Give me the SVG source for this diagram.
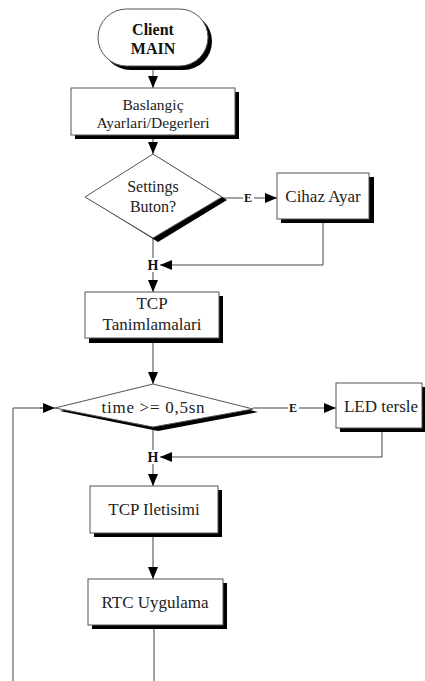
<svg xmlns="http://www.w3.org/2000/svg" width="425" height="681" viewBox="0 0 425 681">
  <defs>
    <marker id="arrow" viewBox="0 0 12 10" refX="12" refY="5" markerWidth="12" markerHeight="10" markerUnits="userSpaceOnUse" orient="auto">
      <path d="M0,0 L12,5 L0,10 Z" fill="#000"/>
    </marker>
  </defs>
  <style>
    .shape { fill: #fff; stroke: #555; stroke-width: 1; }
    .shadow { fill: #000; }
    text { font-family: 'Liberation Serif', 'DejaVu Serif', 'Noto Serif', 'Times New Roman', serif; }
    .txt { fill: #222; text-anchor: middle; }
    .title { font-weight: bold; fill: #111; text-anchor: middle; font-size: 16px; }
    .lbl { font-weight: bold; fill: #111; text-anchor: middle; }
    .line { fill: none; stroke: #444; stroke-width: 1; }
    .arr { fill: none; stroke: #444; stroke-width: 1; marker-end: url(#arrow); }
  </style>
  <rect width="425" height="681" fill="#fff"/>

  <!-- connectors -->
  <g id="connectors">
    <line class="arr" x1="153" y1="69" x2="153" y2="88"/>
    <line class="arr" x1="153" y1="139" x2="153" y2="154"/>
    <!-- decision 1: E branch -->
    <line class="line" x1="222" y1="198" x2="243" y2="198"/>
    <line class="arr" x1="254" y1="198" x2="277" y2="198"/>
    <polyline class="line" points="323,223 323,265 170,265"/>
    <line class="arr" x1="172" y1="265" x2="160" y2="265"/>
    <line class="line" x1="153" y1="238" x2="153" y2="258"/>
    <line class="arr" x1="153" y1="272" x2="153" y2="292"/>
    <line class="arr" x1="153" y1="343" x2="153" y2="384"/>
    <!-- decision 2: E branch -->
    <line class="line" x1="253" y1="408" x2="288" y2="408"/>
    <line class="arr" x1="299" y1="408" x2="336" y2="408"/>
    <polyline class="line" points="382,432 382,457 170,457"/>
    <line class="arr" x1="172" y1="457" x2="160" y2="457"/>
    <line class="line" x1="153" y1="427" x2="153" y2="450"/>
    <line class="arr" x1="153" y1="464" x2="153" y2="486"/>
    <line class="arr" x1="153" y1="537" x2="153" y2="579"/>
    <!-- loop back -->
    <line class="line" x1="154" y1="629" x2="154" y2="681"/>
    <polyline class="line" points="13,681 13,408 45,408"/>
    <line class="arr" x1="40" y1="408" x2="55" y2="408"/>
    <text class="lbl" x="248" y="202" font-size="12">E</text>
    <text class="lbl" x="293" y="412" font-size="12">E</text>
    <text class="lbl" x="153" y="270" font-size="14">H</text>
    <text class="lbl" x="153" y="462" font-size="14">H</text>
  </g>

  <g id="start">
    <rect class="shadow" x="102" y="13" width="110" height="57" rx="28.5"/>
    <rect class="shape" x="98" y="9" width="110" height="57" rx="28.5"/>
    <text class="title" x="153" y="35">Client</text>
    <text class="title" x="153" y="54">MAIN</text>
  </g>

  <g id="init">
    <rect class="shadow" x="75" y="92" width="164" height="47"/>
    <rect class="shape" x="71" y="88" width="164" height="47"/>
    <text class="txt" x="153" y="110" font-size="15.5">Baslangiç</text>
    <text class="txt" x="153" y="128" font-size="15.5">Ayarlari/Degerleri</text>
  </g>

  <g id="settings">
    <polygon class="shadow" points="158,157 227,200 158,242 90,200"/>
    <polygon class="shape" points="153,154 222,197 153,238 85,197"/>
    <text class="txt" x="153" y="192" font-size="16">Settings</text>
    <text class="txt" x="153" y="212" font-size="16">Buton?</text>
  </g>

  <g id="device">
    <rect class="shadow" x="281" y="177" width="93" height="46"/>
    <rect class="shape" x="277" y="173" width="92" height="46"/>
    <text class="txt" x="323" y="202" font-size="17">Cihaz Ayar</text>
  </g>

  <g id="tcpdef">
    <rect class="shadow" x="89" y="296" width="134" height="47"/>
    <rect class="shape" x="85" y="292" width="134" height="46"/>
    <text class="txt" x="152" y="309" font-size="17">TCP</text>
    <text class="txt" x="152" y="330" font-size="17">Tanimlamalari</text>
  </g>

  <g id="timer">
    <polygon class="shadow" points="158,387 258,412 158,431 60,411"/>
    <polygon class="shape" points="153,384 253,409 153,427 55,408"/>
    <text class="txt" x="153" y="413" font-size="17" textLength="103" lengthAdjust="spacing">time &gt;= 0,5sn</text>
  </g>

  <g id="led">
    <rect class="shadow" x="340" y="387" width="90" height="45"/>
    <rect class="shape" x="336" y="383" width="86" height="45"/>
    <text class="txt" x="381" y="412" font-size="17">LED tersle</text>
  </g>

  <g id="tcpcomm">
    <rect class="shadow" x="94" y="490" width="128" height="47"/>
    <rect class="shape" x="90" y="486" width="128" height="47"/>
    <text class="txt" x="154" y="515" font-size="17">TCP Iletisimi</text>
  </g>

  <g id="rtc">
    <rect class="shadow" x="92" y="583" width="135" height="46"/>
    <rect class="shape" x="88" y="579" width="135" height="46"/>
    <text class="txt" x="155" y="608" font-size="17">RTC Uygulama</text>
  </g>
</svg>
